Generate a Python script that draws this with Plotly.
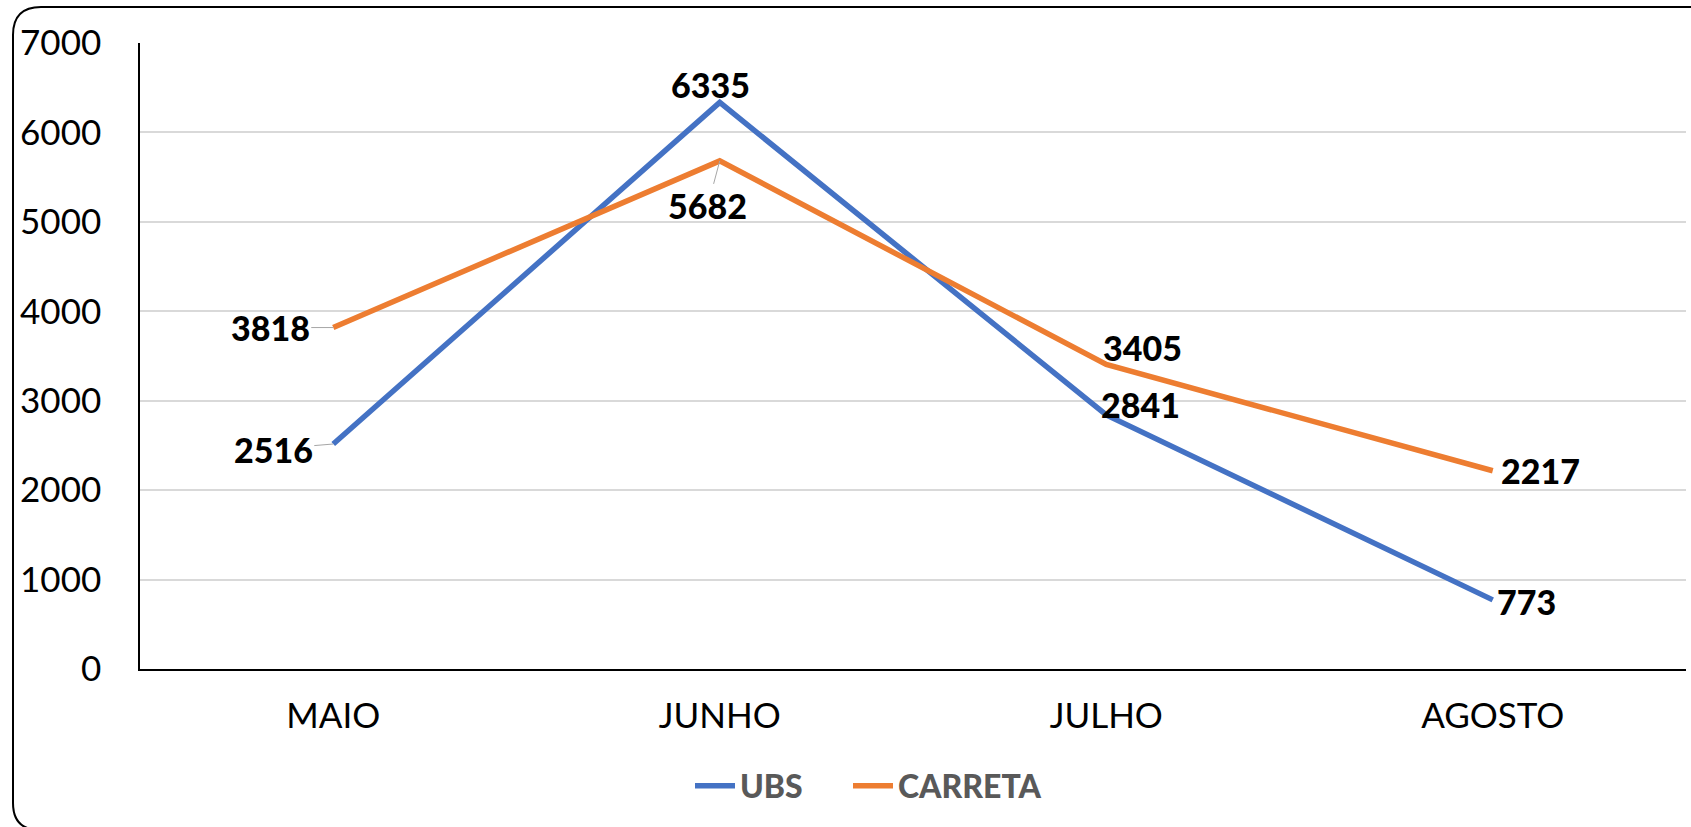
import plotly.graph_objects as go

meses = ["MAIO", "JUNHO", "JULHO", "AGOSTO"]
ubs = [2516, 6335, 2841, 773]
carreta = [3818, 5682, 3405, 2217]

W, H = 1691, 827
L, R, T, B = 140, 5, 43, 158

# label offsets in pixels (dx, dy) and whether a leader line is drawn
ubs_pos = [(-60, 5, True), (-9, -18, False), (34, -10, False), (34, 2, False)]
car_pos = [(-63, 0, True), (-12, 45, True), (36, -17, False), (48, 0, False)]

fig = go.Figure()
fig.add_trace(go.Scatter(x=meses, y=ubs, name="UBS", mode="lines", legend="legend",
                         line=dict(color="#4472C4", width=5.5)))
fig.add_trace(go.Scatter(x=meses, y=carreta, name="CARRETA", mode="lines", legend="legend2",
                         line=dict(color="#ED7D31", width=5.5)))

lab_font = dict(family="Lato", size=34, color="black", weight=900)
for vals, pos in [(ubs, ubs_pos), (carreta, car_pos)]:
    for m, v, (dx, dy, lead) in zip(meses, vals, pos):
        if lead:
            fig.add_annotation(x=m, y=v, text=str(v), showarrow=True, ax=dx, ay=dy,
                               arrowhead=0, arrowwidth=1, arrowcolor="#A6A6A6",
                               font=lab_font)
        else:
            fig.add_annotation(x=m, y=v, text=str(v), showarrow=False,
                               xshift=dx, yshift=-dy, font=lab_font)

pw, ph = W - L - R, H - T - B


def px(x):
    return (x - L) / pw


def py(y):
    return (H - B - y) / ph


border = (f"M {px(40)},{py(830)} Q {px(13)},{py(830)} {px(13)},{py(803)} "
          f"L {px(13)},{py(35)} Q {px(13)},{py(7)} {px(41)},{py(7)} L {px(1700)},{py(7)}")
fig.add_shape(type="path", path=border, xref="paper", yref="paper",
              line=dict(color="black", width=2))

leg_font = dict(family="Lato", size=32, color="#595959", weight=900)
fig.update_layout(
    width=W, height=H,
    margin=dict(l=L, r=R, t=T, b=B, autoexpand=False),
    plot_bgcolor="white", paper_bgcolor="white",
    font=dict(family="Lato", size=35, color="black"),
    showlegend=True,
    legend=dict(orientation="h", x=px(690), xanchor="left", y=py(786), yanchor="middle",
                font=leg_font, itemwidth=40),
    legend2=dict(orientation="h", x=px(848), xanchor="left", y=py(786), yanchor="middle",
                 font=leg_font, itemwidth=40),
    xaxis=dict(showline=True, linecolor="black", linewidth=1.5, showgrid=False,
               range=[-0.5, 3.5], ticks="", ticklabelstandoff=15, automargin=False),
    yaxis=dict(range=[0, 7000], dtick=1000, showline=True, linecolor="black", linewidth=1.5,
               gridcolor="#D9D9D9", gridwidth=1.5, ticks="", ticklabelstandoff=30,
               zeroline=False, automargin=False),
)

fig.write_html("out.html", post_script="document.body.style.margin='0';",
               config={"displayModeBar": False})
